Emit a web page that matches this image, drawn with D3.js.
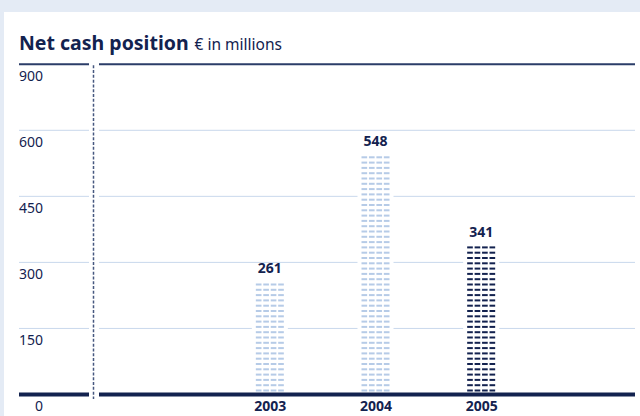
<!DOCTYPE html>
<html>
<head>
<meta charset="utf-8">
<script src="https://cdn.jsdelivr.net/npm/d3@7"></script>
<style>
  html, body { margin: 0; padding: 0; background: #e4ebf5; }
  svg { display: block; }
  text { font-family: "Noto Sans", "Open Sans", sans-serif; }
</style>
</head>
<body>
<svg id="chart" width="640" height="416"></svg>
<script>
// Net cash position, € in millions
const years = ["2003", "2004", "2005"];
const values = [261, 548, 341];
const barColors = ["#b6cbe7", "#b6cbe7", "#13224f"];
// Evenly spaced gridlines; the top one is labelled 900 (axis break)
const tickValues = [0, 150, 300, 450, 600, 750];
const tickLabels = ["0", "150", "300", "450", "600", "900"];

const W = 640, H = 416;
const navy = "#13224f";
const svg = d3.select("#chart");

// white panel
svg.append("rect").attr("x", 4).attr("y", 12).attr("width", W - 4).attr("height", H - 12).attr("fill", "#fff");

// title
const title = svg.append("text").attr("x", 19).attr("y", 50).attr("fill", navy);
title.append("tspan").attr("font-weight", 700).attr("font-size", 19.5).text("Net cash position");
title.append("tspan").attr("font-size", 15.5).attr("dx", 6).text("€ in millions");

const y = d3.scaleLinear().domain([0, 600]).range([394.5, 130.3]);
const x = d3.scalePoint().domain(years).range([217, 534]).padding(0.5);
const barW = 28;

const segments = [[19, 89], [99, 635]];

// gridlines
tickValues.forEach((t, i) => {
  segments.forEach(([a, b]) => {
    svg.append("line")
      .attr("x1", a).attr("x2", b)
      .attr("y1", y(t)).attr("y2", y(t))
      .attr("stroke", t === 0 ? navy : (i === tickValues.length - 1 ? "#2b3d68" : "#c9d8ec"))
      .attr("stroke-width", t === 0 ? 4 : (i === tickValues.length - 1 ? 2 : 1));
  });
});

// tick labels, set just below each gridline
const yAxis = d3.axisLeft(y).tickValues(tickValues).tickFormat((d, i) => tickLabels[i]).tickSize(0);
const gy = svg.append("g").attr("transform", "translate(43,16)").call(yAxis);
gy.select(".domain").remove();
gy.selectAll("text").attr("x", 0).attr("dy", 0).attr("text-anchor", "end")
  .attr("font-size", 14).attr("fill", navy).attr("font-family", "\"Noto Sans\", sans-serif");

// dashed separator between axis labels and plot
svg.append("line")
  .attr("x1", 93.5).attr("x2", 93.5).attr("y1", y(750) + 1).attr("y2", 399)
  .attr("stroke", "#46577f").attr("stroke-width", 1.5).attr("stroke-dasharray", "3,1.8");

// bars drawn as stacked rows of four dashes
const rowStep = 5.3, dashH = 2, cols = 4, gap = 1.8;
const dashW = (barW - gap * (cols - 1)) / cols;
years.forEach((yr, i) => {
  const cx = x(yr);
  const left = cx - barW / 2;
  const top = y(values[i]);
  const bottom = y(0) - 3;
  // clear gridlines around the bar
  svg.append("rect").attr("x", left - 4).attr("y", top - 2).attr("width", barW + 8)
    .attr("height", bottom - top + 2).attr("fill", "#fff");
  const g = svg.append("g").attr("fill", barColors[i]);
  for (let yy = bottom - dashH; yy >= top - 0.5; yy -= rowStep) {
    for (let c = 0; c < cols; c++) {
      g.append("rect").attr("x", left + c * (dashW + gap)).attr("y", yy)
        .attr("width", dashW).attr("height", dashH);
    }
  }
  // value label
  svg.append("text").attr("x", cx).attr("y", top - 7).attr("text-anchor", "middle")
    .attr("font-weight", 700).attr("font-size", 14).attr("fill", navy).text(values[i]);
});

// category labels
const xAxis = d3.axisBottom(x).tickSize(0);
const gx = svg.append("g").attr("transform", "translate(0,399)").call(xAxis);
gx.select(".domain").remove();
gx.selectAll("text").attr("dy", 0).attr("y", 12).attr("font-size", 14).attr("font-weight", 700)
  .attr("fill", navy).attr("font-family", "\"Noto Sans\", sans-serif");
</script>
</body>
</html>
